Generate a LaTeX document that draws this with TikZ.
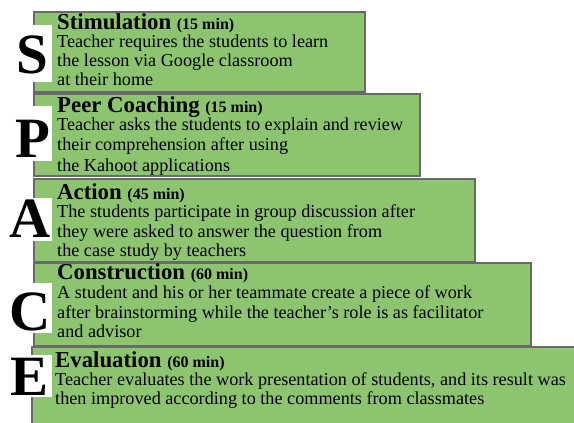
\documentclass[tikz,border=0pt]{standalone}
\usepackage{fontspec}
\setmainfont{Liberation Serif}
\definecolor{boxgreen}{RGB}{141,196,112}
\definecolor{boxline}{RGB}{105,105,105}
\begin{document}
\begin{tikzpicture}[x=1pt,y=-1pt,
  box/.style={draw=boxline,line width=1.5pt,fill=boxgreen,anchor=north west,inner sep=0pt},
  wbox/.style={fill=white,draw=none,anchor=north west,inner sep=0pt},
  letter/.style={font=\fontsize{57}{57}\selectfont\bfseries,inner sep=0pt,anchor=base},
  ttl/.style={font=\fontsize{22.8}{22.8}\selectfont\bfseries,inner sep=0pt,anchor=base west},
  bd/.style={font=\fontsize{18.2}{19}\selectfont,inner sep=0pt,anchor=base west}]
\newcommand{\mins}[1]{{\fontsize{16}{16}\selectfont #1}}
\useasboundingbox (0,0) rectangle (574,423);
\fill[white] (0,0) rectangle (574,423);
% boxes
\node[box,minimum width=331pt,minimum height=80pt] (b1) at (33,11) {};
\node[box,minimum width=386pt,minimum height=82pt] (b2) at (33,93) {};
\node[box,minimum width=441pt,minimum height=83pt] (b3) at (33,178) {};
\node[box,minimum width=497pt,minimum height=83pt] (b4) at (33,262) {};
\node[box,minimum width=550pt,minimum height=85pt] (b5) at (31,346) {};
% white patches behind letters
\node[wbox,minimum width=47pt,minimum height=57pt] (w1) at (5,25) {};
\node[wbox,minimum width=47pt,minimum height=55pt] (w2) at (5,106) {};
\node[wbox,minimum width=47pt,minimum height=43pt] (w3) at (5,198) {};
\node[wbox,minimum width=47pt,minimum height=50pt] (w4) at (5,283) {};
\node[wbox,minimum width=47pt,minimum height=42pt] (w5) at (5,355) {};
% letters
\node[letter] (l1) at (32,73) {S};
\node[letter] (l2) at (33,157) {P};
\node[letter] (l3) at (30,237) {A};
\node[letter] (l4) at (30,330) {C};
\node[letter] (l5) at (30,395) {E};
% box 1
\node[ttl] (t1) at (57,30) {Stimulation \mins{(15 min)}};
\node[bd] (s1a) at (57,47) {Teacher requires the students to learn};
\node[bd] (s1b) at (57,66) {the lesson via Google classroom};
\node[bd] (s1c) at (57,85) {at their home};
% box 2
\node[ttl] (t2) at (57,112) {Peer Coaching \mins{(15 min)}};
\node[bd] (s2a) at (57,130) {Teacher asks the students to explain and review};
\node[bd] (s2b) at (57,150) {their comprehension after using};
\node[bd] (s2c) at (57,171) {the Kahoot applications};
% box 3
\node[ttl] (t3) at (57,199) {Action \mins{(45 min)}};
\node[bd] (s3a) at (57,217) {The students participate in group discussion after};
\node[bd] (s3b) at (57,237) {they were asked to answer the question from};
\node[bd] (s3c) at (57,256) {the case study by teachers};
% box 4
\node[ttl] (t4) at (57,279) {Construction \mins{(60 min)}};
\node[bd] (s4a) at (57,298) {A student and his or her teammate create a piece of work};
\node[bd] (s4b) at (57,318) {after brainstorming while the teacher’s role is as facilitator};
\node[bd] (s4c) at (57,337) {and advisor};
% box 5
\node[ttl] (t5) at (55,367) {Evaluation \mins{(60 min)}};
\node[bd] (s5a) at (55,385) {Teacher evaluates the work presentation of students, and its result was};
\node[bd] (s5b) at (55,404) {then improved according to the comments from classmates};
\end{tikzpicture}
\end{document}
